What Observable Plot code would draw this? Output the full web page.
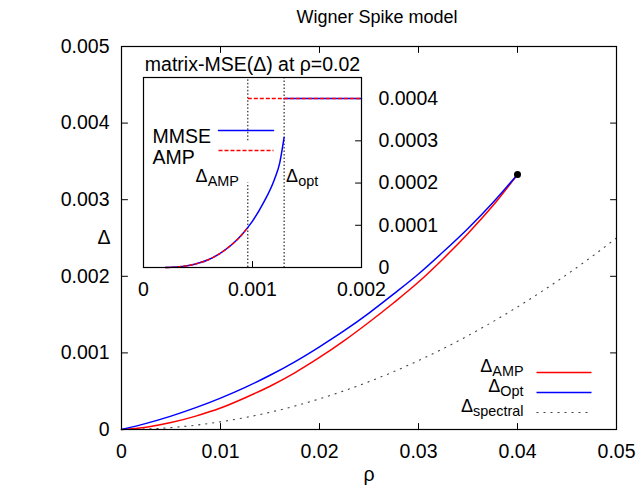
<!DOCTYPE html>
<html><head><meta charset="utf-8">
<script src="https://cdn.jsdelivr.net/npm/d3@7"></script>
<script src="https://cdn.jsdelivr.net/npm/@observablehq/plot@0.6"></script>
<style>
body{margin:0;background:#fff;}
#wrap{position:relative;width:639px;height:491px;}
#wrap svg{position:absolute;left:0;top:0;}
</style></head><body><div id="wrap"></div>
<script>
// ---------- main chart data ----------
const rho       = [0, 0.0025, 0.005, 0.0075, 0.01, 0.0125, 0.015, 0.0175, 0.02, 0.0225, 0.025, 0.0275, 0.03, 0.0325, 0.035, 0.0375, 0.04];
const deltaOpt  = [0, 0.00008, 0.000175, 0.000285, 0.00041, 0.00055, 0.000708, 0.000884, 0.00108, 0.00129, 0.00152, 0.00177, 0.00203, 0.00232, 0.002625, 0.00296, 0.00333];
const deltaAmp  = [0, 0.00003, 0.00009, 0.000175, 0.00028, 0.000415, 0.000565, 0.00074, 0.00094, 0.00116, 0.0014, 0.001655, 0.001925, 0.00223, 0.00256, 0.00292, 0.00333];
const rhoSpectral   = [0, 0.0025, 0.005, 0.0075, 0.01, 0.0125, 0.015, 0.0175, 0.02, 0.0225, 0.025, 0.0275, 0.03, 0.0325, 0.035, 0.0375, 0.04, 0.0425, 0.045, 0.0475, 0.05];
const deltaSpectral = [0, 0.0000063, 0.000025, 0.000056, 0.0001, 0.000156, 0.000225, 0.000306, 0.0004, 0.000506, 0.000625, 0.000756, 0.0009, 0.001056, 0.001225, 0.001406, 0.0016, 0.001806, 0.002025, 0.002256, 0.0025];
const endPoint = [[0.04, 0.00333]];
const xTicks = [0, 0.01, 0.02, 0.03, 0.04, 0.05];
const xTickLabels = ["0", "0.01", "0.02", "0.03", "0.04", "0.05"];
const yTicks = [0, 0.001, 0.002, 0.003, 0.004, 0.005];
const yTickLabels = ["0", "0.001", "0.002", "0.003", "0.004", "0.005"];
const legendLabels = ["Δ_AMP", "Δ_Opt", "Δ_spectral"];

// ---------- inset data (matrix-MSE at rho = 0.02) ----------
const insetDelta = [0.0002, 0.0003, 0.0004, 0.0005, 0.0006, 0.0007, 0.0008, 0.0009, 0.000957, 0.001, 0.0011, 0.0012, 0.00125, 0.00129];
const insetMmse  = [0, 0.000001, 0.000004, 0.00001, 0.000019, 0.000033, 0.000052, 0.000077, 0.000095, 0.00011, 0.000153, 0.000208, 0.000248, 0.000308];
const insetAmpDelta = [0.0002, 0.0003, 0.0004, 0.0005, 0.0006, 0.0007, 0.0008, 0.0009, 0.000957];
const insetAmpMse   = [0, 0.000001, 0.000004, 0.00001, 0.000019, 0.000033, 0.000052, 0.000077, 0.000095];
const mmsePlateauDelta = [0.00129, 0.002];
const ampPlateauDelta  = [0.000957, 0.002];
const plateauMse = [0.0004, 0.0004];
const thresholdAmp = 0.000957;
const thresholdOpt = 0.00129;
const ampMarkerSegments = [[0, 0.0002], [0.0003, 0.00045]];
const insetXTicks = [0, 0.001, 0.002];
const insetXTickLabels = ["0", "0.001", "0.002"];
const insetYTicks = [0, 0.0001, 0.0002, 0.0003, 0.0004];
const insetYTickLabels = ["0", "0.0001", "0.0002", "0.0003", "0.0004"];
const insetLegend = ["MMSE", "AMP"];

// ---------- helpers ----------
const FONT = "'Liberation Sans', Arial, Helvetica, sans-serif";
const stick = {draw(context, l) { context.moveTo(0, 0); context.lineTo(0, -l); }};
const tbl = (xs, ys) => xs.map((x, i) => ({x, y: ys[i]}));
function inwardTicks(xt, yt, sides) {
  const m = [];
  const o = {length: 6, anchor: "start", shape: stick, stroke: "black", strokeWidth: 1};
  if (sides.includes("b")) m.push(Plot.vector(xt, {...o, x: d => d, frameAnchor: "bottom", rotate: 0}));
  if (sides.includes("t")) m.push(Plot.vector(xt, {...o, x: d => d, frameAnchor: "top", rotate: 180}));
  if (sides.includes("l")) m.push(Plot.vector(yt, {...o, y: d => d, frameAnchor: "left", rotate: 90}));
  if (sides.includes("r")) m.push(Plot.vector(yt, {...o, y: d => d, frameAnchor: "right", rotate: 270}));
  return m;
}
function subscripts(svg) {
  svg.querySelectorAll("text").forEach(t => {
    if (t.childElementCount === 0 && t.textContent.includes("_")) {
      const [base, sub] = t.textContent.split("_");
      t.textContent = base;
      const ts = document.createElementNS("http://www.w3.org/2000/svg", "tspan");
      ts.setAttribute("dy", "0.28em");
      ts.setAttribute("font-size", "0.8em");
      ts.textContent = sub;
      t.appendChild(ts);
    }
  });
}

// ---------- main plot ----------
const legendStyles = [
  {stroke: "#ff0000", dash: null, width: 1.5},
  {stroke: "#0000ff", dash: null, width: 1.5},
  {stroke: "#444444", dash: "2,5", width: 1.1}
];
const legendMarks = [];
legendLabels.forEach((lab, i) => {
  const dy = -57 + 20 * i;
  legendMarks.push(Plot.text([lab], {frameAnchor: "bottom-right", dx: -93, dy: dy - 1, textAnchor: "end", fontSize: 18}));
  legendMarks.push(Plot.vector([lab], {frameAnchor: "bottom-right", dx: -80, dy, rotate: 90, length: 55, anchor: "start", shape: stick,
    stroke: legendStyles[i].stroke, strokeWidth: legendStyles[i].width, strokeDasharray: legendStyles[i].dash, strokeLinecap: "butt"}));
});

const main = Plot.plot({
  width: 639, height: 491,
  marginLeft: 121, marginRight: 23, marginTop: 46, marginBottom: 62,
  style: {fontFamily: FONT, fontSize: "19.5px", color: "black", background: "white", overflow: "visible"},
  x: {domain: [0, 0.05], label: null},
  y: {domain: [0, 0.005], label: null},
  marks: [
    Plot.axisX({ticks: xTicks, tickFormat: d => xTickLabels[xTicks.indexOf(d)], tickSize: 0, tickPadding: 15, label: null}),
    Plot.axisY({ticks: yTicks, tickFormat: d => yTickLabels[yTicks.indexOf(d)], tickSize: 0, tickPadding: 12, label: null}),
    ...inwardTicks(xTicks, yTicks, "btlr"),
    Plot.line(tbl(rhoSpectral, deltaSpectral), {x: "x", y: "y", curve: "monotone-x", stroke: "#444444", strokeWidth: 1.1, strokeDasharray: "2,5", strokeLinecap: "butt"}),
    Plot.line(tbl(rho, deltaAmp), {x: "x", y: "y", curve: "monotone-x", stroke: "#ff0000", strokeWidth: 1.5}),
    Plot.line(tbl(rho, deltaOpt), {x: "x", y: "y", curve: "monotone-x", stroke: "#0000ff", strokeWidth: 1.5}),
    Plot.dot(endPoint, {x: d => d[0], y: d => d[1], r: 3.5, fill: "black"}),
    Plot.frame({stroke: "black", strokeWidth: 1.2}),
    Plot.text(["Wigner Spike model"], {frameAnchor: "top", dy: -36, dx: 8, fontSize: 18}),
    Plot.text(["ρ"], {frameAnchor: "bottom", dy: 51}),
    Plot.text(["Δ"], {frameAnchor: "left", dx: -24}),
    ...legendMarks
  ]
});

// ---------- inset ----------
const inset = Plot.plot({
  width: 639, height: 491,
  marginLeft: 143, marginRight: 278, marginTop: 77, marginBottom: 224,
  style: {fontFamily: FONT, fontSize: "19.5px", color: "black", background: "none", overflow: "visible"},
  x: {domain: [0, 0.002], label: null},
  y: {domain: [0, 0.00045], label: null},
  marks: [
    Plot.axisX({ticks: insetXTicks, tickFormat: d => insetXTickLabels[insetXTicks.indexOf(d)], tickSize: 0, tickPadding: 15, label: null}),
    Plot.axisY({anchor: "right", ticks: insetYTicks, tickFormat: d => insetYTickLabels[insetYTicks.indexOf(d)], tickSize: 0, tickPadding: 17, textAnchor: "start", label: null}),
    ...inwardTicks(insetXTicks, insetYTicks, "br"),
    ...ampMarkerSegments.map(([a, b]) => Plot.ruleX([thresholdAmp], {x: d => d, y1: a, y2: b, stroke: "black", strokeWidth: 1, strokeDasharray: "1.5,2"})),
    Plot.ruleX([thresholdOpt], {x: d => d, stroke: "black", strokeWidth: 1, strokeDasharray: "1.5,2"}),
    Plot.line(tbl(insetDelta, insetMmse), {x: "x", y: "y", curve: "monotone-x", stroke: "#0000ff", strokeWidth: 1.5}),
    Plot.line(tbl(mmsePlateauDelta, plateauMse), {x: "x", y: "y", stroke: "#0000ff", strokeWidth: 1.5}),
    Plot.line(tbl(insetAmpDelta, insetAmpMse), {x: "x", y: "y", curve: "monotone-x", stroke: "#ff0000", strokeWidth: 1.5, strokeDasharray: "4,2", strokeLinecap: "butt"}),
    Plot.line(tbl(ampPlateauDelta, plateauMse), {x: "x", y: "y", stroke: "#ff0000", strokeWidth: 1.5, strokeDasharray: "4,2", strokeLinecap: "butt"}),
    Plot.frame({stroke: "black", strokeWidth: 1.2}),
    Plot.text(["matrix-MSE(Δ) at ρ=0.02"], {frameAnchor: "top", dy: -20}),
    Plot.text(["Δ_AMP"], {x: () => thresholdAmp, frameAnchor: "bottom", dy: -86, dx: -9, textAnchor: "end", fontSize: 18}),
    Plot.text(["Δ_opt"], {x: () => thresholdOpt, frameAnchor: "bottom", dy: -86, dx: 2, textAnchor: "start", fontSize: 18}),
    Plot.text([insetLegend[0]], {frameAnchor: "top-left", dx: 9, dy: 52, textAnchor: "start"}),
    Plot.vector([insetLegend[0]], {frameAnchor: "top-left", dx: 75, dy: 53, rotate: 90, length: 55, anchor: "start", shape: stick, stroke: "#0000ff", strokeWidth: 1.5}),
    Plot.text([insetLegend[1]], {frameAnchor: "top-left", dx: 9, dy: 73, textAnchor: "start"}),
    Plot.vector([insetLegend[1]], {frameAnchor: "top-left", dx: 75, dy: 73, rotate: 90, length: 55, anchor: "start", shape: stick, stroke: "#ff0000", strokeWidth: 1.5, strokeDasharray: "4,2", strokeLinecap: "butt"})
  ]
});

subscripts(main);
subscripts(inset);
const wrap = document.getElementById("wrap");
wrap.appendChild(main);
wrap.appendChild(inset);
</script>
</body></html>
